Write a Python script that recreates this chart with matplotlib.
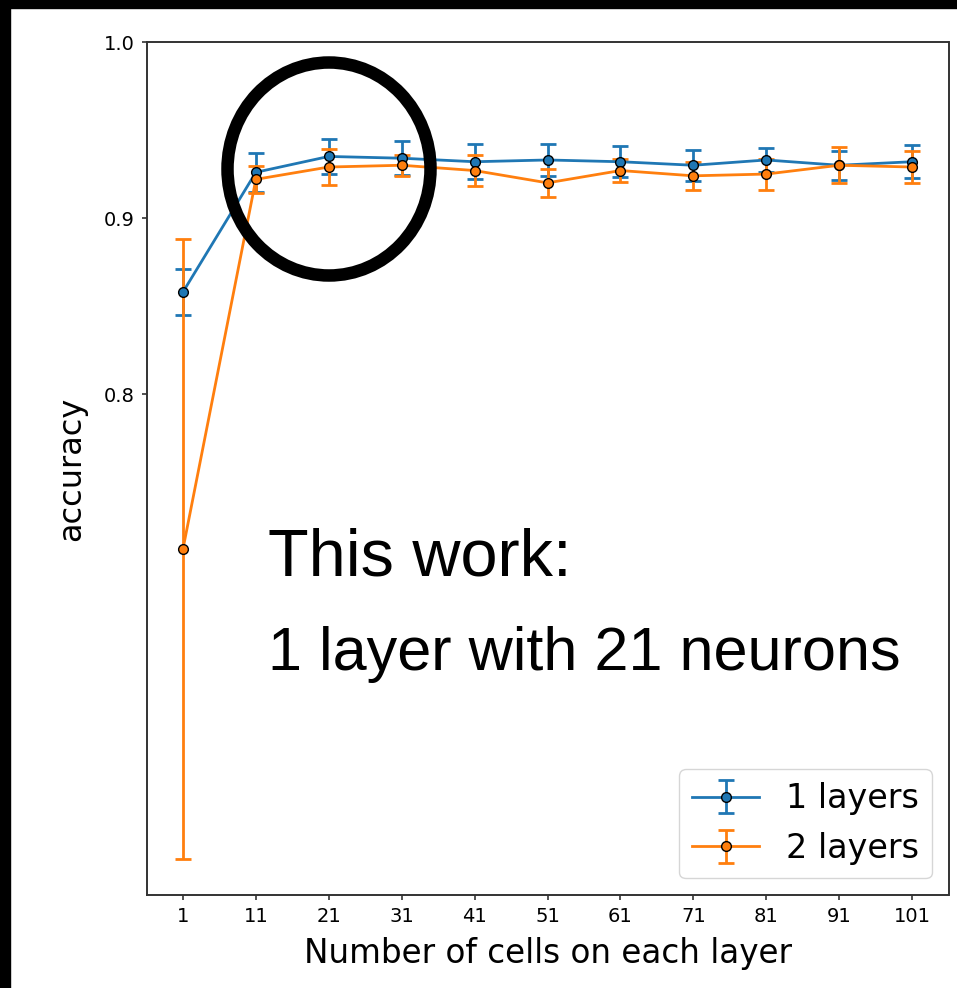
import matplotlib
matplotlib.use('Agg')
import matplotlib.pyplot as plt
from matplotlib.patches import Ellipse, Rectangle
import numpy as np

# cells per layer
cells = [1, 11, 21, 31, 41, 51, 61, 71, 81, 91, 101]

# accuracy, 1 hidden layer
acc1 = [0.858, 0.926, 0.935, 0.934, 0.932, 0.933, 0.932, 0.930, 0.933, 0.930, 0.932]
err1 = [0.013, 0.011, 0.0097, 0.0095, 0.0098, 0.0089, 0.0088, 0.0088, 0.0067, 0.0083, 0.0093]

# accuracy, 2 hidden layers
acc2 = [0.712, 0.922, 0.929, 0.930, 0.927, 0.920, 0.927, 0.924, 0.925, 0.930, 0.929]
err2 = [0.176, 0.0077, 0.0102, 0.006, 0.0087, 0.008, 0.0065, 0.008, 0.0088, 0.0103, 0.009]

W, H = 957, 988
fig = plt.figure(figsize=(W/100, H/100), dpi=100)
ax = fig.add_axes([146.5/W, 1-895/H, (948.5-146.5)/W, (895-42)/H])

ax.errorbar(cells, acc1, yerr=err1, fmt='-o', color='tab:blue', mec='black',
            ms=7, lw=2, elinewidth=2, capsize=6, capthick=2, label='1 layers')
ax.errorbar(cells, acc2, yerr=err2, fmt='-o', color='tab:orange', mec='black',
            ms=7, lw=2, elinewidth=2, capsize=6, capthick=2, label='2 layers')

ax.set_ylim(top=1.0)
ax.set_yticks([0.8, 0.9, 1.0])
ax.set_xticks(cells)
for s in ax.spines.values():
    s.set_linewidth(1.4)
    s.set_color('#333333')
ax.tick_params(labelsize=14, pad=5, width=1.2, color='#333333')
ax.set_xlabel('Number of cells on each layer', fontsize=23.5, labelpad=8)
ax.set_ylabel('accuracy', fontsize=23, labelpad=12)
ax.legend(loc='lower right', fontsize=24)

# overlay annotations
fig.text(268/W, 1-575/H, 'This work:', fontsize=48, family='Liberation Sans',
         va='baseline', ha='left')
fig.text(268/W, 1-670/H, '1 layer with 21 neurons', fontsize=44,
         family='Liberation Sans', va='baseline', ha='left')
fig.patches.append(Ellipse((329/W, 1-169/H), 203/W, 213/H, transform=fig.transFigure,
                           fill=False, ec='black', lw=9, zorder=10))

# black border strips from the screenshot
fig.patches.append(Rectangle((0, 1-8/H), 1, 8/H, transform=fig.transFigure,
                             color='black', zorder=11))
fig.patches.append(Rectangle((0, 0), 10/W, 1, transform=fig.transFigure,
                             color='black', zorder=11))

plt.savefig('out.png', dpi=100)
